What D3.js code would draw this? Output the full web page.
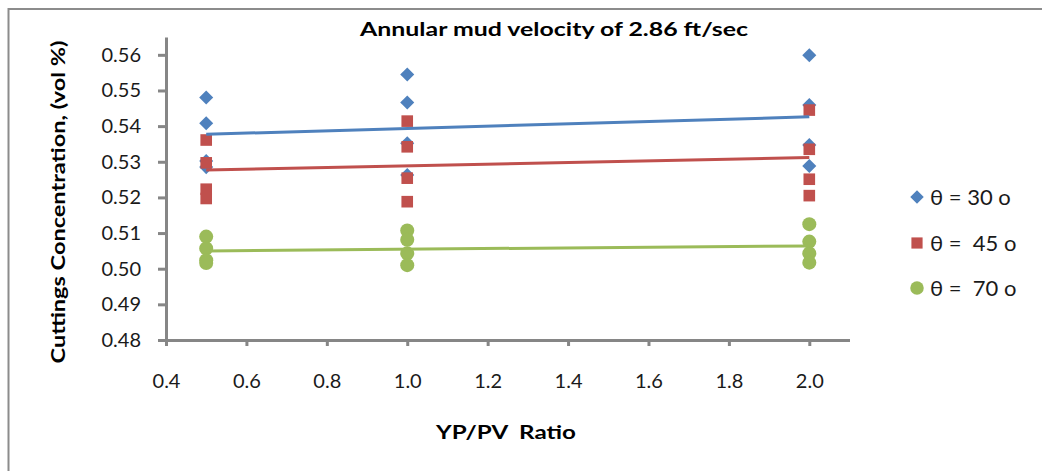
<!DOCTYPE html>
<html>
<head>
<meta charset="utf-8">
<script src="https://cdn.jsdelivr.net/npm/d3@7"></script>
<style>
  html, body { margin: 0; padding: 0; background: #fff; }
  svg { display: block; }
  text { font-family: Lato, "Open Sans", sans-serif; }
</style>
</head>
<body>
<svg id="chart" width="1042" height="471"></svg>
<script>
// ---- data ----
const title = "Annular mud velocity of 2.86 ft/sec";
const xTitle = "YP/PV  Ratio";
const yTitle = "Cuttings Concentration, (vol %)";
const xTicks = [0.4, 0.6, 0.8, 1.0, 1.2, 1.4, 1.6, 1.8, 2.0];
const yTicks = [0.48, 0.49, 0.50, 0.51, 0.52, 0.53, 0.54, 0.55, 0.56];
const seriesNames = ["θ = 30 o", "θ =  45 o", "θ =  70 o"];

const xCat = [0.5, 1.0, 2.0];
// points per x value
const theta30 = [
  [0.5480, 0.5408, 0.5302, 0.5285],
  [0.5545, 0.5466, 0.5352, 0.5263],
  [0.5599, 0.5459, 0.5347, 0.5288]
];
const theta45 = [
  [0.5361, 0.5297, 0.5223, 0.5197],
  [0.5414, 0.5342, 0.5254, 0.5188],
  [0.5445, 0.5335, 0.5251, 0.5205]
];
const theta70 = [
  [0.5090, 0.5057, 0.5024, 0.5016],
  [0.5107, 0.5081, 0.5043, 0.5010],
  [0.5125, 0.5076, 0.5043, 0.5017]
];
// linear trend lines (start at x=0.5, end at x=2.0)
const trendX = [0.5, 2.0];
const trend30 = [0.5377, 0.5426];
const trend45 = [0.5277, 0.5312];
const trend70 = [0.5050, 0.5064];

const colors = ["#4F81BD", "#C0504D", "#9BBB59"];
const shapes = ["diamond", "square", "circle"];

// ---- drawing ----
const svg = d3.select("#chart");
const x = d3.scaleLinear().domain([0.4, 2.1]).range([166, 849.5]);
const y = d3.scaleLinear().domain([0.48, 0.565]).range([340, 37]);
const axisColor = "#868686";

// outer chart border (left and top visible)
svg.append("path")
  .attr("d", "M8.5,471 L8.5,9 L1042,9")
  .attr("fill", "none").attr("stroke", "#8c8c8c").attr("stroke-width", 2);

// axes
const gy = svg.append("g").attr("transform", "translate(166,0)")
  .call(d3.axisLeft(y).tickValues(yTicks).tickFormat(d3.format(".2f")).tickSize(8).tickSizeOuter(0).tickPadding(17));
const gx = svg.append("g").attr("transform", "translate(0,340)")
  .call(d3.axisBottom(x).tickValues(xTicks).tickFormat(d3.format(".1f")).tickSize(6).tickSizeOuter(0).tickPadding(28));
[gx, gy].forEach(g => {
  g.select(".domain").attr("stroke", axisColor).attr("stroke-width", 3);
  g.selectAll(".tick line").attr("stroke", axisColor).attr("stroke-width", 3);
  g.selectAll(".tick text").attr("fill", "#1a1a1a").style("font-size", "20px").style("font-family", "Lato, sans-serif");
});

function marker(sel, shape, color, size) {
  if (shape === "diamond") {
    const r = size * 0.52;
    sel.append("path").attr("d", `M0,${-r}L${r},0L0,${r}L${-r},0Z`).attr("fill", color);
  } else if (shape === "square") {
    const s = size * 0.86;
    sel.append("rect").attr("x", -s / 2).attr("y", -s / 2).attr("width", s).attr("height", s).attr("fill", color);
  } else {
    sel.append("circle").attr("r", size * 0.52).attr("fill", color);
  }
}

const allSeries = [theta30, theta45, theta70];
allSeries.forEach((ser, si) => {
  const pts = [];
  ser.forEach((vals, xi) => vals.forEach(v => pts.push([xCat[xi], v])));
  const g = svg.append("g");
  pts.forEach(p => {
    const m = g.append("g").attr("transform", `translate(${x(p[0])},${y(p[1])})`);
    marker(m, shapes[si], colors[si], 13.5);
  });
});

const trends = [trend30, trend45, trend70];
const line = d3.line().x(d => x(d[0])).y(d => y(d[1]));
trends.forEach((t, si) => {
  svg.append("path")
    .attr("d", line(trendX.map((xv, i) => [xv, t[i]])))
    .attr("fill", "none").attr("stroke", colors[si]).attr("stroke-width", 3);
});

// titles
svg.append("text").attr("x", 554).attr("y", 36).attr("text-anchor", "middle")
  .style("font-size", "19px").style("font-weight", "bold").attr("fill", "#000")
  .attr("textLength", 388).attr("lengthAdjust", "spacingAndGlyphs").text(title);
svg.append("text").attr("x", 506).attr("y", 439).attr("text-anchor", "middle")
  .style("font-size", "19px").style("font-weight", "bold").attr("fill", "#000")
  .style("white-space", "pre").attr("xml:space", "preserve")
  .attr("textLength", 140).attr("lengthAdjust", "spacingAndGlyphs").text(xTitle);
svg.append("text").attr("transform", "translate(65,202) rotate(-90)").attr("text-anchor", "middle")
  .style("font-size", "19px").style("font-weight", "bold").attr("fill", "#000")
  .attr("textLength", 323).attr("lengthAdjust", "spacingAndGlyphs").text(yTitle);

// legend
const legY = [197, 243, 288];
seriesNames.forEach((name, i) => {
  const m = svg.append("g").attr("transform", `translate(917,${legY[i]})`);
  marker(m, shapes[i], colors[i], 13);
  svg.append("text").attr("x", 930).attr("y", legY[i] + 8)
    .style("font-size", "22px").attr("fill", "#1a1a1a")
    .style("white-space", "pre").attr("xml:space", "preserve").text(name);
});
</script>
</body>
</html>
